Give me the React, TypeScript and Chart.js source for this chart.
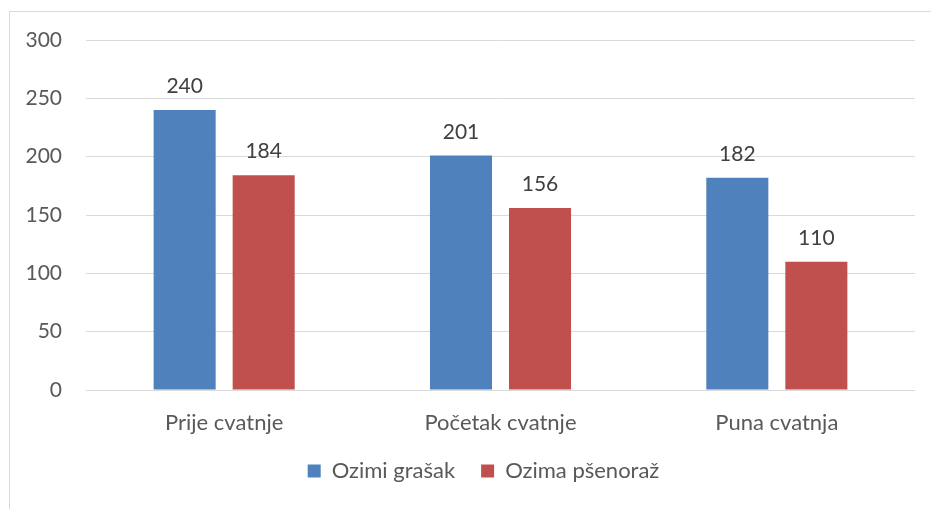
import { useEffect, useRef } from "react";
import { Chart, registerables } from "chart.js";

Chart.register(...registerables);

const categories = ["Prije cvatnje", "Početak cvatnje", "Puna cvatnja"];
const seriesNames = ["Ozimi grašak", "Ozima pšenoraž"];
const grasakValues = [240, 201, 182];
const psenorazValues = [184, 156, 110];
const yMin = 0;
const yMax = 300;
const yStep = 50;

const FONT = "Lato, 'Open Sans', sans-serif";
const LEGEND_OFFSET_X = 26;

const valueLabels = {
  id: "valueLabels",
  afterDatasetsDraw(chart: any) {
    const ctx = chart.ctx;
    ctx.save();
    ctx.font = `21px ${FONT}`;
    ctx.fillStyle = "#404040";
    ctx.textAlign = "center";
    ctx.textBaseline = "alphabetic";
    chart.data.datasets.forEach((ds: any, di: number) => {
      const meta = chart.getDatasetMeta(di);
      meta.data.forEach((el: any, i: number) => {
        ctx.fillText(String(ds.data[i]), el.x, el.y - 17);
      });
    });
    ctx.restore();
  },
};

// Nudge the legend to the right, as the reference places it
const legendShift = {
  id: "legendShift",
  afterLayout(chart: any) {
    const lg = chart.legend;
    if (!lg) return;
    lg.left += LEGEND_OFFSET_X;
    lg.right += LEGEND_OFFSET_X;
  },
};

export default function App() {
  const ref = useRef<HTMLCanvasElement | null>(null);

  useEffect(() => {
    if (!ref.current) return;
    const chart = new Chart(ref.current, {
      type: "bar",
      data: {
        labels: categories,
        datasets: [
          {
            label: seriesNames[0],
            data: grasakValues,
            backgroundColor: "#4F81BD",
            categoryPercentage: 0.572,
            barPercentage: 0.785,
          },
          {
            label: seriesNames[1],
            data: psenorazValues,
            backgroundColor: "#C0504D",
            categoryPercentage: 0.572,
            barPercentage: 0.785,
          },
        ],
      },
      options: {
        responsive: false,
        animation: false,
        layout: { padding: { top: 40, right: 16, left: 0, bottom: 17 } },
        scales: {
          x: {
            grid: { display: false },
            border: { display: false },
            ticks: {
              color: "#595959",
              font: { family: FONT, size: 22 },
              padding: 12,
            },
            afterFit: (scale: any) => {
              scale.height = 44;
            },
          },
          y: {
            min: yMin,
            max: yMax,
            border: { display: false },
            grid: { color: "#d9d9d9", lineWidth: 1, drawTicks: false },
            ticks: {
              stepSize: yStep,
              color: "#595959",
              font: { family: FONT, size: 21 },
              padding: 24,
            },
            afterFit: (scale: any) => {
              scale.width = 86;
            },
          },
        },
        plugins: {
          legend: {
            position: "bottom",
            labels: {
              boxWidth: 13,
              boxHeight: 13,
              padding: 26,
              color: "#595959",
              font: { family: FONT, size: 22 },
            },
          },
          tooltip: { enabled: false },
        },
      },
      plugins: [valueLabels, legendShift],
    });
    return () => chart.destroy();
  }, []);

  return (
    <div style={{ position: "absolute", left: 0, top: 0, width: 931, height: 509, background: "#fff" }}>
      <div
        style={{
          position: "absolute",
          left: 9,
          top: 11,
          right: 0,
          bottom: 0,
          borderLeft: "1px solid #d9d9d9",
          borderTop: "1px solid #d9d9d9",
        }}
      />
      <canvas ref={ref} width={931} height={509} style={{ position: "absolute", left: 0, top: 0 }} />
    </div>
  );
}
